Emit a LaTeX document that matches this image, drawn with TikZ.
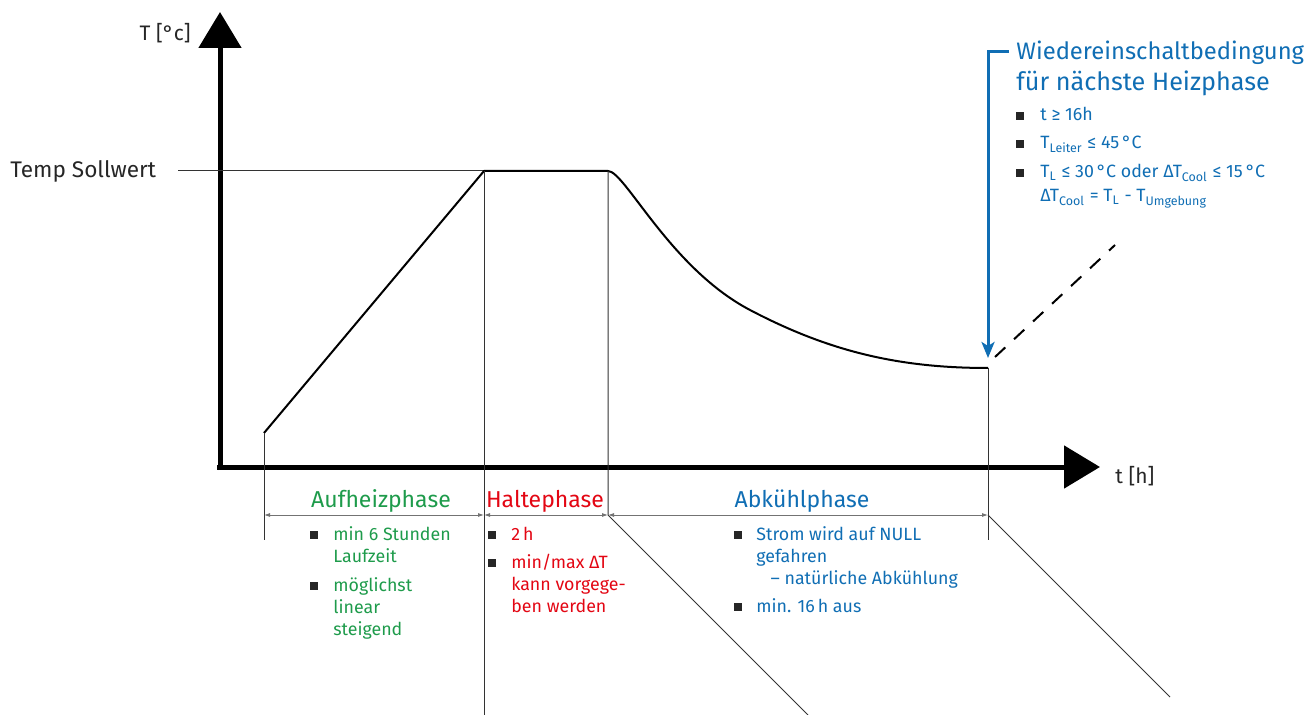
\documentclass[tikz,border=0pt]{standalone}
\usepackage{fontspec}
\setmainfont{Fira Sans}
\usetikzlibrary{arrows.meta}
\definecolor{heizgruen}{RGB}{30,155,75}
\definecolor{halterot}{RGB}{227,6,19}
\definecolor{kuehlblau}{RGB}{16,110,180}
\tikzset{
axis/.style={ % thick axes with big triangle heads
line width=2.5pt,
-{Triangle[length=18pt,width=21pt]}},
guide/.style={draw=black!80, line width=0.5pt},
profile/.style={line width=1pt, line join=round},
dimline/.style={draw=black!55, line width=0.4pt,
{Latex[length=3pt,width=2pt]}-{Latex[length=3pt,width=2pt]}},
label/.style={font=\fontsize{10.5}{13}\selectfont, inner sep=0pt, text=black!85},
phase/.style={font=\fontsize{11.5}{14}\selectfont, inner sep=0pt, anchor=base},
item/.style={font=\fontsize{8.9}{11}\selectfont, inner sep=0pt, anchor=base west, align=left}, % base = last line
bullet/.style={fill=black!85, minimum size=4pt, inner sep=0pt}}

\begin{document}
\begin{tikzpicture}[x=0.5pt, y=-0.5pt]
\useasboundingbox (0,0) rectangle (1304,715);

% axes
\coordinate (origin) at (220,467);
\coordinate (ytip) at (220,12);
\coordinate (xtip) at (1100,467);
\draw[axis] (220,470) -- (ytip);
\draw[axis] (217,467) -- (xtip);
\node[label, anchor=base east] (ylabel) at (191,41) {T [°c]};
\node[label, anchor=base west] (xlabel) at (1115,483) {t [h]};

% set point
\node[label, anchor=base west, font=\fontsize{11.3}{13}\selectfont] (soll) at (10,178) {Temp Sollwert};
\coordinate (sollend) at (178,171);
\coordinate (top2) at (608,171);
\draw[guide] (sollend) -- (top2);

% temperature profile
\coordinate (start) at (264,433);
\coordinate (top1) at (484,171);
\coordinate (low) at (988,368);
\draw[profile] (start) -- (top1) -- (top2)
 .. controls (625,171) and (670,268) .. (750,310)
 .. controls (830,352) and (900,368) .. (low);
\coordinate (next) at (995,357);
\coordinate (nextend) at (1115,245);
\draw[line width=1pt, dashed, dash pattern=on 7pt off 6pt] (next) -- (nextend);

% phase borders
\coordinate (b1) at (264,540);
\coordinate (b2) at (484,715);
\coordinate (d1) at (264,515);
\coordinate (d2) at (484,515);
\coordinate (d3) at (608,515);
\coordinate (d4) at (988,515);
\coordinate (b3) at (808,715);
\coordinate (b4) at (988,540);
\coordinate (b5) at (1170,697);
\draw[guide] (start) -- (b1);
\draw[guide] (top1) -- (b2);
\draw[guide] (top2) -- (d3) -- (b3);
\draw[guide] (low) -- (b4);
\draw[guide] (d4) -- (b5);
\draw[dimline] (d1) -- (d2);
\draw[dimline] (d2) -- (d3);
\draw[dimline] (d3) -- (d4);

% Aufheizphase
\node[phase, text=heizgruen] (aufheiz) at (381,507) {Aufheizphase};
\node[bullet] at (314,535) {};
\node[item, text=heizgruen] (a1) at (333,562) {min 6 Stunden\\Laufzeit};
\node[bullet] at (314,586) {};
\node[item, text=heizgruen] (a2) at (333,635) {möglichst\\linear\\steigend};

% Haltephase
\node[phase, text=halterot] (halte) at (545,507) {Haltephase};
\node[bullet] at (492,535) {};
\node[item, text=halterot] (h1) at (511,540) {2\,h};
\node[bullet] at (492,563) {};
\node[item, text=halterot] (h2) at (511,612) {min/max ΔT\\kann vorgege-\\ben werden};

% Abkuehlphase
\node[phase, text=kuehlblau] (abkuehl) at (802,507) {Abkühlphase};
\node[bullet] at (738,535) {};
\node[item, text=kuehlblau] (k1) at (756,584) {Strom wird auf NULL\\gefahren\\\hspace{0.8em}– natürliche Abkühlung};
\node[bullet] at (738,607) {};
\node[item, text=kuehlblau] (k2) at (756,612) {min. 16\,h aus};

% restart condition
\coordinate (bracket) at (988,52);
\coordinate (brackettop) at (1009,52);
\coordinate (arrowtip) at (988,358);
\draw[kuehlblau, line width=1.5pt] (brackettop) -- (bracket) -- (988,300);
\draw[kuehlblau, line width=1.5pt, -{Stealth[length=8pt,width=6.5pt,inset=2pt]}] (988,290) -- (arrowtip);
\node[font=\fontsize{12.6}{15.5}\selectfont, inner sep=0pt, anchor=base west, align=left, text=kuehlblau]
 (cond) at (1016,91) {{\fontsize{11.9}{15.5}\selectfont Wiedereinschaltbedingung}\\für nächste Heizphase};
\node[bullet] at (1020,116) {};
\node[item, text=kuehlblau] (c1) at (1040,121) {t ≥ 16h};
\node[bullet] at (1020,144) {};
\node[item, text=kuehlblau] (c2) at (1040,149) {T\textsubscript{Leiter} ≤ 45\,°C};
\node[bullet] at (1020,173) {};
\node[item, text=kuehlblau, font=\fontsize{8.9}{12}\selectfont] (c3) at (1040,202)
 {T\textsubscript{L} ≤ 30\,°C oder ΔT\textsubscript{Cool} ≤ 15\,°C\\ΔT\textsubscript{Cool} = T\textsubscript{L} - T\textsubscript{Umgebung}};
\end{tikzpicture}
\end{document}
